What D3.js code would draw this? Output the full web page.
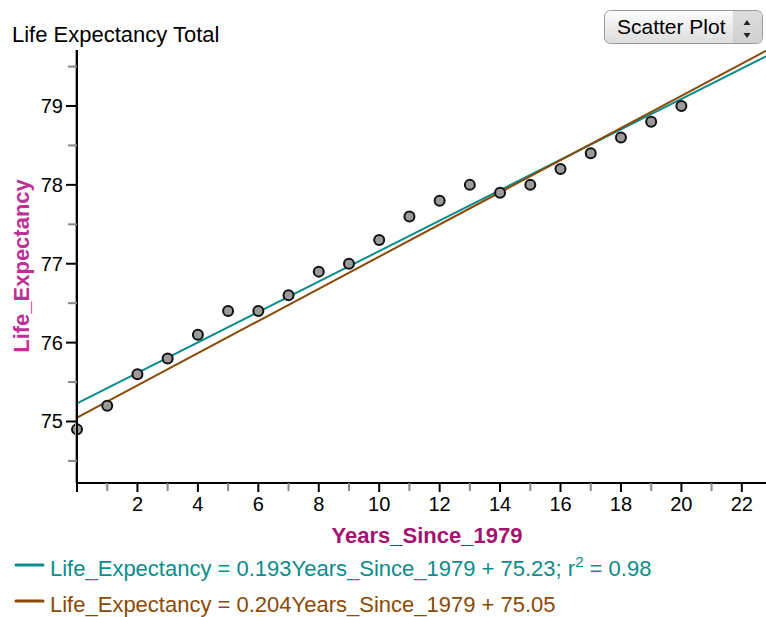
<!DOCTYPE html>
<html><head><meta charset="utf-8">
<script src="https://cdn.jsdelivr.net/npm/d3@7"></script>
<style>
body{margin:0;background:#fff;}
svg{display:block;font-family:"Liberation Sans",Arial,sans-serif;}
</style></head>
<body>
<svg id="chart" width="766" height="617"></svg>
<script>
const years = [0,1,2,3,4,5,6,7,8,9,10,11,12,13,14,15,16,17,18,19,20];
const lifeExpectancy = [74.9,75.2,75.6,75.8,76.1,76.4,76.4,76.6,76.9,77.0,77.3,77.6,77.8,78.0,77.9,78.0,78.2,78.4,78.6,78.8,79.0];
const fitLines = [
  {slope:0.193, intercept:75.23, color:"#0a8c8c", label:"Life_Expectancy = 0.193Years_Since_1979 + 75.23; r", sup:"2", tail:" = 0.98"},
  {slope:0.204, intercept:75.05, color:"#8a4a06", label:"Life_Expectancy = 0.204Years_Since_1979 + 75.05", sup:"", tail:""}
];
const xTicks = d3.range(0,23,1);
const yTicks = d3.range(74.5,79.51,0.5);

const svg = d3.select("#chart");
const pL=77, pR=766, pT=50, pB=483;
const x = d3.scaleLinear().domain([0,22.8]).range([pL,pR]);
const y = d3.scaleLinear().domain([74.22,79.71]).range([pB,pT]);

// title
svg.append("text").attr("x",12).attr("y",42).attr("font-size",22).attr("fill","#000").text("Life Expectancy Total");

// button
const defs = svg.append("defs");
const grad = defs.append("linearGradient").attr("id","bg").attr("x1",0).attr("y1",0).attr("x2",0).attr("y2",1);
grad.append("stop").attr("offset","0%").attr("stop-color","#fdfdfd");
grad.append("stop").attr("offset","100%").attr("stop-color","#dcdcdc");
const btn = svg.append("g");
btn.append("rect").attr("x",604.5).attr("y",10.5).attr("width",158).attr("height",33).attr("rx",6).attr("fill","url(#bg)").attr("stroke","#9a9a9a");
btn.append("rect").attr("x",733).attr("y",11).attr("width",29).attr("height",32).attr("fill","#c8c8c8").attr("opacity",0.6);
btn.append("text").attr("x",617).attr("y",34).attr("font-size",21).attr("fill","#000").text("Scatter Plot");
btn.append("path").attr("d","M747,20 l-3.5,5 h7 z M747,38 l-3.5,-5 h7 z").attr("fill","#222");

// clip
defs.append("clipPath").attr("id","clip").append("rect").attr("x",pL).attr("y",pT).attr("width",pR-pL).attr("height",pB-pT);

// fit lines
const fg = svg.append("g").attr("clip-path","url(#clip)");
fitLines.forEach(f=>{
  fg.append("line").attr("x1",x(0)).attr("y1",y(f.intercept)).attr("x2",x(22.8)).attr("y2",y(f.intercept+f.slope*22.8))
    .attr("stroke",f.color).attr("stroke-width",2);
});

// points
svg.append("g").selectAll("circle").data(years).join("circle")
  .attr("cx",(d)=>x(d)).attr("cy",(d,i)=>y(lifeExpectancy[i])).attr("r",5)
  .attr("fill","#9b9b9b").attr("stroke","#111").attr("stroke-width",2);

// y axis
const ya = svg.append("g");
ya.append("line").attr("x1",pL-1.5).attr("x2",pL-1.5).attr("y1",pT).attr("y2",pB).attr("stroke","#aaa").attr("stroke-width",1);
ya.append("line").attr("x1",pL).attr("x2",pL).attr("y1",pT).attr("y2",pB).attr("stroke","#000").attr("stroke-width",2);
yTicks.forEach(t=>{
  const major = Math.abs(t-Math.round(t))<1e-6;
  ya.append("line").attr("x1",pL-(major?11:9)).attr("x2",pL).attr("y1",y(t)).attr("y2",y(t))
    .attr("stroke",major?"#000":"#888").attr("stroke-width",2);
  if(major) ya.append("text").attr("x",pL-14).attr("y",y(t)+7).attr("text-anchor","end").attr("font-size",20).text(d3.format("d")(t));
});

// x axis
const xa = svg.append("g");
xa.append("line").attr("x1",pL-1).attr("x2",pR).attr("y1",pB).attr("y2",pB).attr("stroke","#000").attr("stroke-width",2);
xTicks.forEach(t=>{
  const major = t%2===0;
  xa.append("line").attr("x1",x(t)).attr("x2",x(t)).attr("y1",pB).attr("y2",pB+(major?9:8))
    .attr("stroke",major?"#000":"#888").attr("stroke-width",2);
  if(major && t>0) xa.append("text").attr("x",x(t)).attr("y",pB+28).attr("text-anchor","middle").attr("font-size",20).text(t);
});

// axis titles
svg.append("text").attr("x",427).attr("y",543).attr("text-anchor","middle").attr("font-size",22).attr("font-weight","bold").attr("fill","#a3136f").text("Years_Since_1979");
svg.append("text").attr("transform","translate(29,266) rotate(-90)").attr("text-anchor","middle").attr("font-size",22).attr("font-weight","bold").attr("fill","#c02f96").text("Life_Expectancy");

// legend
fitLines.forEach((f,i)=>{
  const ly = 565 + i*36;
  svg.append("line").attr("x1",16).attr("x2",43).attr("y1",ly).attr("y2",ly).attr("stroke",f.color).attr("stroke-width",3).attr("stroke-linecap","round");
  const t = svg.append("text").attr("x",50).attr("y",ly+11).attr("font-size",22).attr("fill",f.color);
  t.append("tspan").text(f.label);
  if(f.sup){ t.append("tspan").attr("dy",-9).attr("font-size",15).text(f.sup); t.append("tspan").attr("dy",9).text(f.tail); }
});
</script>
</body></html>
